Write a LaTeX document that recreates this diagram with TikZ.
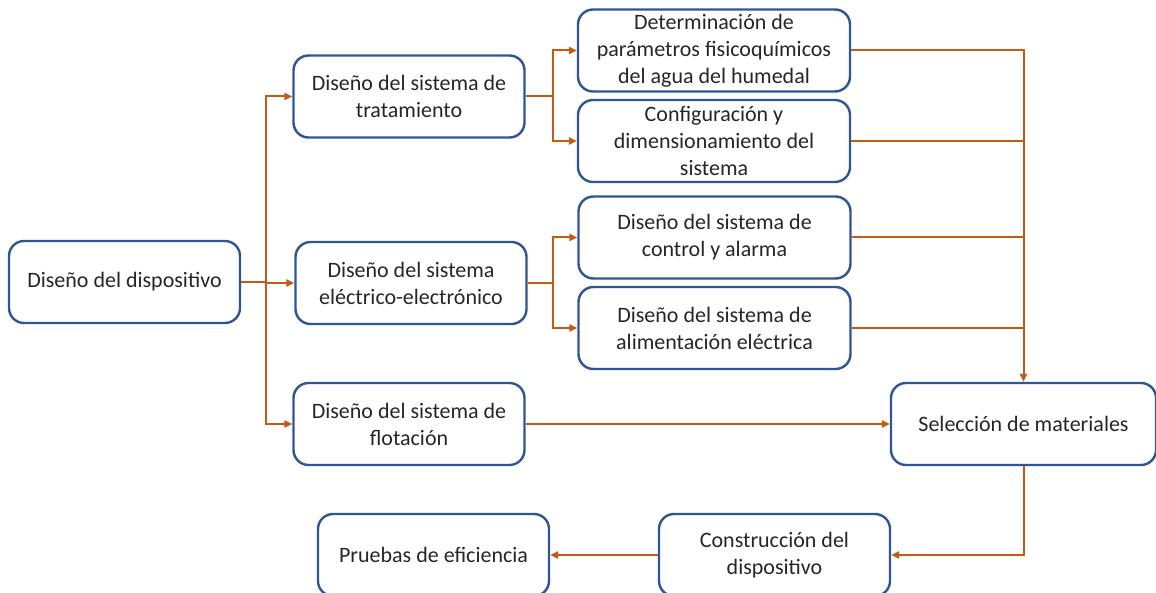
\documentclass[tikz,border=0pt]{standalone}
\usepackage{fontspec}
\setmainfont{Carlito}
\usetikzlibrary{arrows.meta}
\definecolor{boxblue}{HTML}{2F5597}
\definecolor{linkorange}{HTML}{C55A11}
\begin{document}
\begin{tikzpicture}[x=0.5pt, y=-0.5pt]
  %
  \tikzstyle{box} = [draw=boxblue, line width=1.2pt, rounded corners=7.5pt, fill=white, align=center, text=black!85, minimum width=115.5pt, minimum height=41pt, inner sep=1pt, font=\fontsize{11}{13.5}\selectfont]
  \tikzstyle{wide} = [box, minimum width=136pt]
  \tikzstyle{link} = [draw=linkorange, line width=1pt, -{Triangle[length=4pt, width=3.6pt]}]
  \tikzstyle{bus} = [draw=linkorange, line width=1pt]
  \useasboundingbox (0,0) rectangle (1156,593);
  % first level
  \node[box] (disp) at (124.5,282) {Diseño del dispositivo};
  \node[box] (trat) at (409,96.5) {Diseño del sistema de\\tratamiento};
  \node[box] (elec) at (411,283) {Diseño del sistema\\eléctrico-electrónico};
  \node[box] (flot) at (409,424) {Diseño del sistema de\\flotación};
  % second level
  \node[wide] (param) at (714,50.5) {Determinación de\\parámetros fisicoquímicos\\del agua del humedal};
  \node[wide] (config) at (714,141) {Configuración y\\dimensionamiento del\\sistema};
  \node[wide] (ctrl) at (714.5,237.5) {Diseño del sistema de\\control y alarma};
  \node[wide] (alim) at (714.5,328) {Diseño del sistema de\\alimentación eléctrica};
  % last steps
  \node[box, minimum width=132.5pt] (mat) at (1023.5,424) {Selección de materiales};
  \node[box] (constr) at (774.5,555) {Construcción del\\dispositivo};
  \node[box] (pruebas) at (433.5,555) {Pruebas de eficiencia};
  % connectors
  \draw[link] (disp.east) -- ++(25,0) |- (trat.west);
  \draw[link] (disp.east) -- ++(25,0) |- (elec.west);
  \draw[link] (disp.east) -- ++(25,0) |- (flot.west);
  \draw[link] (trat.east) -- ++(27,0) |- (param.west);
  \draw[link] (trat.east) -- ++(27,0) |- (config.west);
  \draw[link] (elec.east) -- ++(25,0) |- (ctrl.west);
  \draw[link] (elec.east) -- ++(25,0) |- (alim.west);
  \draw[bus] (config.east) -- (mat.north |- config.east);
  \draw[bus] (ctrl.east) -- (mat.north |- ctrl.east);
  \draw[bus] (alim.east) -- (mat.north |- alim.east);
  \draw[link] (param.east) -- (mat.north |- param.east) -- (mat.north);
  \draw[link] (flot.east) -- (mat.west);
  \draw[link] (mat.south) |- (constr.east);
  \draw[link] (constr.west) -- (pruebas.east);
\end{tikzpicture}
\end{document}
